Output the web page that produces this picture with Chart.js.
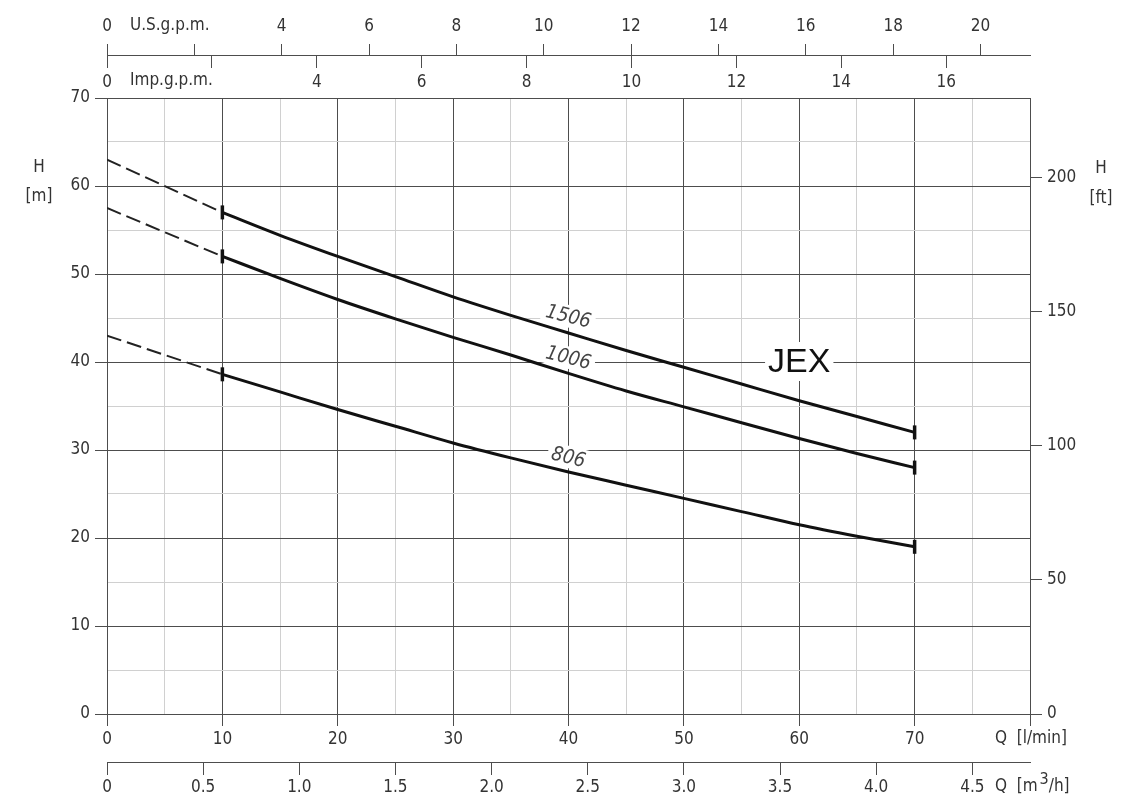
<!DOCTYPE html>
<html><head><meta charset="utf-8">
<script src="https://cdn.jsdelivr.net/npm/chart.js@4.4.1/dist/chart.umd.min.js"></script>
<style>html,body{margin:0;padding:0;background:#fff;}canvas{display:block;}</style>
</head><body>
<canvas id="c" width="1140" height="810" style="width:1140px;height:810px"></canvas>
<script>
// ---- data ----
const seriesNames = ['1506', '1006', '806'];
const flowSolid = [10, 15, 20, 25, 30, 35, 40, 45, 50, 55, 60, 65, 70];   // l/min
const head1506 = [57.0, 54.4, 52.0, 49.7, 47.4, 45.3, 43.3, 41.3, 39.4, 37.5, 35.6, 33.8, 32.0]; // m
const head1006 = [52.0, 49.5, 47.1, 44.9, 42.8, 40.8, 38.7, 36.7, 34.9, 33.1, 31.3, 29.6, 28.0];
const head806  = [38.6, 36.6, 34.6, 32.7, 30.8, 29.1, 27.5, 26.0, 24.5, 23.0, 21.5, 20.2, 19.0];
const flowDashed = [0, 10];
const dash1506 = [63.0, 57.0];
const dash1006 = [57.5, 52.0];
const dash806  = [43.0, 38.6];
const title = 'JEX';

// ---- unit conversions ----
const Q_MAX = 80, H_MAX = 70;
const LPM_PER_USGPM = 3.78541, LPM_PER_IMPGPM = 4.54609, LPM_PER_M3H = 1000 / 60, M_PER_FT = 0.3048;

const MAJOR = '#4d4d4d', MINOR = '#d0d0d0', TXT = '#333';
const FONT_FAMILY = '"Liberation Sans Narrow", "DejaVu Sans Condensed", "Liberation Sans", sans-serif';
const tickFont = {family: FONT_FAMILY, size: 17};

const pts = (xs, ys) => xs.map((v, i) => ({x: v, y: ys[i]}));
const endRadius = n => flowSolid.map((_, i) => (i === 0 || i === n - 1) ? 7 : 0);

function solid(name, ys) {
  return {label: name, data: pts(flowSolid, ys), borderColor: '#111', borderWidth: 3, tension: 0.35,
    cubicInterpolationMode: 'monotone',
    pointStyle: 'line', rotation: 90, pointRadius: endRadius(flowSolid.length), pointBorderWidth: 3.5,
    pointBorderColor: '#111', pointBackgroundColor: '#111', xAxisID: 'x', yAxisID: 'y'};
}
function dashed(name, ys) {
  return {label: name + ' (ext)', data: pts(flowDashed, ys), borderColor: '#222', borderWidth: 2,
    borderDash: [15, 6], pointRadius: 0, xAxisID: 'x', yAxisID: 'y'};
}

const TOP_AXIS_H = 74.83; // y-scale value where the two top axes share their base line

const textPlugin = {
  id: 'texts',
  beforeDatasetsDraw(chart) {
    const {ctx, scales: {x, y}} = chart;
    const anchors = [[40, 45.2], [40, 40.5], [40, 29.2]];
    ctx.save();
    ctx.font = 'italic 20px ' + FONT_FAMILY;
    ctx.textAlign = 'center'; ctx.textBaseline = 'middle';
    seriesNames.forEach((n, i) => {
      const px = x.getPixelForValue(anchors[i][0]), py = y.getPixelForValue(anchors[i][1]);
      ctx.save();
      ctx.translate(px, py);
      ctx.rotate(14 * Math.PI / 180);
      const w = ctx.measureText(n).width;
      ctx.fillStyle = '#fff';
      ctx.fillRect(-w / 2 - 4, -11, w + 8, 22);
      ctx.fillStyle = '#444';
      ctx.fillText(n, 0, 1);
      ctx.restore();
    });
    // JEX
    const jx = x.getPixelForValue(60), jy = y.getPixelForValue(40);
    ctx.font = '34px "Liberation Sans", Arial, sans-serif';
    const jw = ctx.measureText(title).width;
    ctx.fillStyle = '#fff';
    ctx.fillRect(jx - jw / 2 - 3, jy - 20, jw + 6, 39);
    ctx.fillStyle = '#111';
    ctx.fillText(title, jx, jy + 1);
    ctx.restore();
  },
  afterDraw(chart) {
    const {ctx} = chart;
    ctx.save();
    ctx.fillStyle = TXT;
    ctx.font = '17px ' + FONT_FAMILY;
    ctx.textBaseline = 'middle';
    ctx.textAlign = 'center';
    ctx.fillText('H', 39, 168);
    ctx.fillText('[m]', 39, 197);
    ctx.fillText('H', 1101, 169);
    ctx.fillText('[ft]', 1101, 199);
    ctx.textAlign = 'left';
    ctx.fillText('U.S.g.p.m.', 130, 26);
    ctx.fillText('Imp.g.p.m.', 130, 81);
    ctx.fillText('Q  [l/min]', 995, 739);
    let xx = 995;
    const part = (t, yy, f) => { ctx.font = f; ctx.fillText(t, xx, yy); xx += ctx.measureText(t).width; };
    part('Q  [m', 787, '17px ' + FONT_FAMILY);
    xx += 2;
    part('3', 780, '16px ' + FONT_FAMILY);
    part('/h]', 787, '17px ' + FONT_FAMILY);
    ctx.restore();
  }
};

const majorOnly = (step) => (c) => (Math.abs(c.tick.value / step - Math.round(c.tick.value / step)) < 1e-6) ? MAJOR : 'transparent';

new Chart(document.getElementById('c'), {
  type: 'line',
  data: {datasets: [
    solid(seriesNames[0], head1506), solid(seriesNames[1], head1006), solid(seriesNames[2], head806),
    dashed(seriesNames[0], dash1506), dashed(seriesNames[1], dash1006), dashed(seriesNames[2], dash806)
  ]},
  options: {
    responsive: false, animation: false, events: [],
    layout: {padding: {top: 98, left: 0, right: 0, bottom: 0}},
    plugins: {legend: {display: false}, tooltip: {enabled: false}},
    scales: {
      x: {
        type: 'linear', position: 'bottom', weight: 0, min: 0, max: Q_MAX,
        ticks: {stepSize: 5, autoSkip: false, maxRotation: 0, padding: 3, color: TXT, font: tickFont,
          callback: v => (v % 10 === 0 && v < Q_MAX) ? String(v) : ''},
        grid: {color: c => c.tick.value % 10 === 0 ? MAJOR : MINOR, tickColor: majorOnly(10), tickLength: 12, lineWidth: 1},
        border: {color: MAJOR},
        afterFit: s => { s.height = 48; }
      },
      m3h: {
        type: 'linear', axis: 'x', position: 'bottom', weight: 1, min: 0, max: Q_MAX / LPM_PER_M3H,
        ticks: {stepSize: 0.5, includeBounds: false, autoSkip: false, maxRotation: 0, padding: 2, color: TXT, font: tickFont,
          callback: v => v === 0 ? '0' : v.toFixed(1)},
        grid: {drawOnChartArea: false, color: MAJOR, tickColor: MAJOR, tickLength: 13},
        border: {color: MAJOR},
        afterFit: s => { s.height = 48; }
      },
      imp: {
        type: 'linear', axis: 'x', position: {y: TOP_AXIS_H}, min: 0, max: Q_MAX / LPM_PER_IMPGPM,
        ticks: {stepSize: 2, includeBounds: false, autoSkip: false, maxRotation: 0, padding: 5, color: TXT, font: tickFont,
          callback: v => v === 2 ? '' : String(v)},
        grid: {drawOnChartArea: false, color: MAJOR, tickColor: MAJOR, tickLength: 12},
        border: {color: MAJOR},
        afterFit: s => { s.height = 0; }
      },
      us: {
        type: 'linear', axis: 'x', position: {y: TOP_AXIS_H}, min: 0, max: Q_MAX / LPM_PER_USGPM,
        ticks: {stepSize: 2, includeBounds: false, autoSkip: false, maxRotation: 0, padding: -27, color: TXT, font: tickFont,
          callback: v => v === 2 ? '' : String(v)},
        grid: {drawOnChartArea: false, color: MAJOR, tickColor: MAJOR, tickLength: -12},
        border: {color: MAJOR},
        afterFit: s => { s.height = 0; }
      },
      y: {
        type: 'linear', position: 'left', min: 0, max: H_MAX,
        ticks: {stepSize: 5, autoSkip: false, padding: 5, color: TXT, font: tickFont,
          callback: v => v % 10 === 0 ? String(v) : ''},
        grid: {color: c => c.tick.value % 10 === 0 ? MAJOR : MINOR, tickColor: majorOnly(10), tickLength: 12},
        border: {color: MAJOR},
        afterFit: s => { s.width = 107; }
      },
      ft: {
        type: 'linear', position: 'right', min: 0, max: H_MAX / M_PER_FT,
        ticks: {stepSize: 50, includeBounds: false, autoSkip: false, padding: 5, color: TXT, font: tickFont},
        grid: {drawOnChartArea: false, color: MAJOR, tickColor: MAJOR, tickLength: 12},
        border: {display: false},
        afterFit: s => { s.width = 110; }
      }
    }
  },
  plugins: [textPlugin]
});
</script>
</body></html>
